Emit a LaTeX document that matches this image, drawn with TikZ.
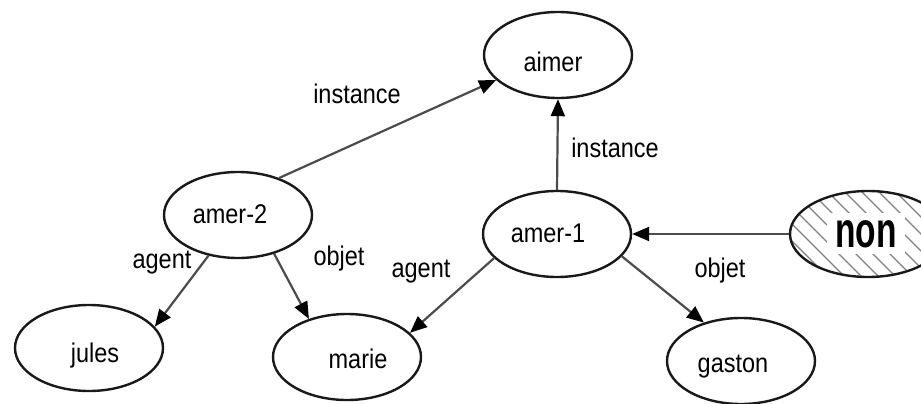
\documentclass[tikz,border=0pt]{standalone}
\usepackage{fontspec}
\setmainfont{Liberation Sans}
\usetikzlibrary{shapes.geometric,arrows.meta}
\newcommand{\mylbl}[1]{\scalebox{0.87}[1]{#1}}
\begin{document}
\begin{tikzpicture}[x=1pt,y=-1pt,
  ell/.style={ellipse, draw=black!90, line width=2.4pt, minimum width=148pt, minimum height=86pt, inner sep=0pt},
  txt/.style={anchor=base, inner sep=0pt, font=\fontsize{27}{30}\selectfont, text=black},
  conn/.style={draw=black!70, line width=2.2pt, -{Triangle[length=17pt,width=14pt,color=black]}},
  hatch/.style={path picture={\foreach \k in {-270,-253,...,270}{\draw[black!50,line width=1.3pt] ([xshift=\k pt]path picture bounding box.center) ++(-90pt,90pt) -- ++(180pt,-180pt);}}}
]
\useasboundingbox (0,0) rectangle (921,404);
\clip (0,0) rectangle (921,404);
\fill[white] (0,0) rectangle (921,404);

% ellipses
\node[ell] (aimer) at (558,55) {};
\node[ell] (amer2) at (238,215) {};
\node[ell] (amer1) at (557,234) {};
\node[ell, hatch, minimum width=156pt] (non) at (868,234) {};
\node[ell] (jules) at (89,348) {};
\node[ell] (marie) at (347,357) {};
\node[ell] (gaston) at (741,361) {};

% texts in ellipses
\node[txt] (taimer) at (553,72) {\mylbl{aimer}};
\node[txt] (tamer2) at (230,223) {\mylbl{amer-2}};
\node[txt] (tamer1) at (548,242) {\mylbl{amer-1}};
\node[txt] (tjules) at (95,362) {\mylbl{jules}};
\node[txt] (tmarie) at (358,368) {\mylbl{marie}};
\node[txt] (tgaston) at (733,372) {\mylbl{gaston}};
\node[anchor=base, fill=white, inner xsep=8pt, inner ysep=7pt, font=\fontsize{50}{54}\bfseries\selectfont] (tnon) at (866,247) {\scalebox{0.67}[1]{non}};

% connectors
\draw[conn] (amer2.42) -- (aimer.202);
\draw[conn] (amer1.north) -- (aimer.south);
\draw[conn] (non.west) -- (amer1.east);
\draw[conn] (amer2.234) -- (jules.18);
\draw[conn] (amer2.313) -- (marie.135);
\draw[conn] (amer1.201) -- (marie.21);
\draw[conn] (amer1.341) -- (gaston.134);

% edge labels
\node[txt] (l1) at (357,103) {\mylbl{instance}};
\node[txt] (l2) at (615,157) {\mylbl{instance}};
\node[txt] (l3) at (162,268) {\mylbl{agent}};
\node[txt] (l4) at (339,265) {\mylbl{objet}};
\node[txt] (l5) at (421,277) {\mylbl{agent}};
\node[txt] (l6) at (720,277) {\mylbl{objet}};
\end{tikzpicture}
\end{document}
